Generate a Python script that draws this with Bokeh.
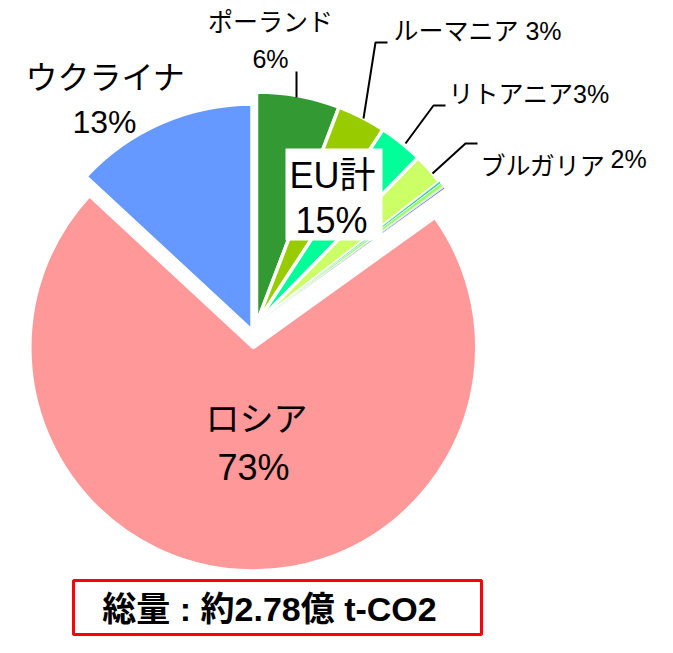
import numpy as np
from bokeh.plotting import figure
from bokeh.models import Range1d, ColumnDataSource
from bokeh.core.properties import value
from bokeh.embed import file_html
from bokeh.resources import INLINE

# ---- data (percent shares, clockwise from 12 o'clock) ----
names = ["ポーランド", "ルーマニア", "リトアニア", "ブルガリア", "その他A", "その他B", "その他C", "その他D", "ロシア", "ウクライナ"]
shares = [5.8, 3.4, 3.1, 2.2, 0.15, 0.25, 0.1, 0.1, 71.8, 13.1]
groups = ["EU", "EU", "EU", "EU", "EUs", "EUs", "EUs", "EUs", "RU", "UA"]
colors = ["#339933", "#99CC00", "#00FF99", "#CCFF66", "#33CCAA", "#99FF66", "#CCFF99", "#6666FF", "#FF9999", "#6699FF"]
eu_total_label = "15%"
total_label = "総量 : 約2.78億 t-CO2"

FONT = value("Liberation Sans, Noto Sans CJK JP")

W, H = 657, 637
def sy(y):  # screen y -> data y
    return 653 - y

p = figure(width=W, height=H, x_range=Range1d(0, 657), y_range=Range1d(16, 653),
           output_backend="svg", toolbar_location=None, min_border=0)
p.axis.visible = False
p.grid.visible = False
p.outline_line_color = None
p.background_fill_color = "white"

# group centres (explosion) and radii, in screen px
centres = {"RU": (252.8, 347.0, 223.5), "UA": (251.5, 330.0, 226.5),
           "EU": (256.0, 323.0, 231.5), "EUs": (256.0, 323.0, 231.5)}

fr = np.array(shares) / sum(shares)
cum = np.concatenate([[0], np.cumsum(fr)])
xs, ys, rs, sa, ea, lw = [], [], [], [], [], []
for i, g in enumerate(groups):
    cx, cy, r = centres[g]
    a, b = cum[i], cum[i + 1]
    xs.append(cx); ys.append(sy(cy)); rs.append(r)
    sa.append(np.pi / 2 - 2 * np.pi * b)
    ea.append(np.pi / 2 - 2 * np.pi * a)
    lw.append(0.6 if g == "EUs" else 3.5)

order = [8, 9, 0, 1, 2, 3, 4, 5, 6, 7]
src = ColumnDataSource(dict(x=[xs[i] for i in order], y=[ys[i] for i in order],
                            r=[rs[i] for i in order], sa=[sa[i] for i in order],
                            ea=[ea[i] for i in order], c=[colors[i] for i in order],
                            lw=[lw[i] for i in order]))
p.wedge(x="x", y="y", radius="r", start_angle="sa", end_angle="ea", fill_color="c",
        line_color="white", line_width="lw", source=src)

# leader lines
p.line([296, 296], [sy(71), sy(97)], line_color="black", line_width=2)
p.line([387, 375, 363], [sy(42), sy(42), sy(118)], line_color="black", line_width=2)
p.line([445, 433, 405], [sy(105), sy(105), sy(143)], line_color="black", line_width=2)
p.line([477, 465, 432], [sy(143), sy(143), sy(173)], line_color="black", line_width=2)

def txt(x, y, s, size, align="center", style="normal"):
    p.text(x=[x], y=[sy(y)], text=[s], text_font=FONT, text_font_size=f"{size}px",
           text_align=align, text_baseline="middle", text_color="black", text_font_style=style)

txt(270, 21, names[0], 25)
txt(270, 58, "6%", 25)
txt(393, 30, names[1] + " 3%", 25, "left")
txt(448, 93, names[2] + "3%", 25, "left")
txt(480, 165, names[3], 25, "left")
txt(610, 158, "2%", 25, "left")
txt(105, 77, names[9], 32)
txt(104, 121, "13%", 32)

# EU total box
p.quad(left=[285], right=[382], top=[sy(148)], bottom=[sy(240)], fill_color="white", line_color=None)
txt(332, 175, "EU計", 36)
txt(331, 220, eu_total_label, 36)

txt(256, 418, names[8], 34)
txt(253, 467, "73%", 36)

# total box
p.quad(left=[73], right=[481], top=[sy(580)], bottom=[sy(634)], fill_color=None,
       line_color="#FF0000", line_width=3)
txt(269, 608, total_label, 34, style="bold")

open("out.html", "w").write(file_html(p, INLINE))
